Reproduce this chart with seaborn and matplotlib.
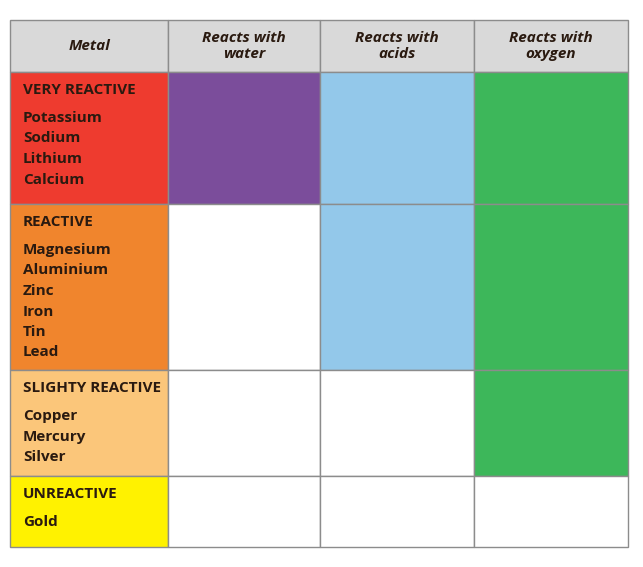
import matplotlib
matplotlib.use("Agg")
import matplotlib.pyplot as plt
import seaborn as sns
from matplotlib.patches import Rectangle

columns = ["Metal", "Reacts with\nwater", "Reacts with\nacids", "Reacts with\noxygen"]
groups = ["VERY REACTIVE", "REACTIVE", "SLIGHTY REACTIVE", "UNREACTIVE"]
metals = [["Potassium", "Sodium", "Lithium", "Calcium"],
          ["Magnesium", "Aluminium", "Zinc", "Iron", "Tin", "Lead"],
          ["Copper", "Mercury", "Silver"],
          ["Gold"]]
reacts_water = [1, 0, 0, 0]
reacts_acids = [1, 1, 0, 0]
reacts_oxygen = [1, 1, 1, 0]

group_colors = ["#EE3B2F", "#F0852D", "#FBC67A", "#FFF200"]
react_colors = ["#7B4D9B", "#93C8EA", "#3DB75A"]
header_color = "#D9D9D9"
text_color = "#2A1A10"
line_color = "#8C8C8C"

sns.set_style("white")
plt.rcParams['font.family'] = ['Open Sans', 'DejaVu Sans']

fig = plt.figure(figsize=(6.43, 5.67), dpi=100)
ax = fig.add_axes([0, 0, 1, 1])
ax.set_xlim(0, 643)
ax.set_ylim(567, 0)
ax.axis("off")

col_x = [10, 168, 320, 474, 628]
row_y = [20, 72, 204, 370, 476, 547]

# header
for c in range(4):
    ax.add_patch(Rectangle((col_x[c], row_y[0]), col_x[c+1]-col_x[c], row_y[1]-row_y[0],
                           facecolor=header_color, edgecolor=line_color, lw=1))
    ax.text((col_x[c]+col_x[c+1])/2, (row_y[0]+row_y[1])/2, columns[c], ha="center", va="center",
            fontsize=11, fontweight="bold", fontstyle="italic", color=text_color, linespacing=1.1)

react = [reacts_water, reacts_acids, reacts_oxygen]
for r in range(4):
    y0, y1 = row_y[r+1], row_y[r+2]
    ax.add_patch(Rectangle((col_x[0], y0), col_x[1]-col_x[0], y1-y0,
                           facecolor=group_colors[r], edgecolor=line_color, lw=1))
    ax.text(23, y0+18, groups[r], ha="left", va="center", fontsize=11, fontweight="bold", color=text_color)
    for i, m in enumerate(metals[r]):
        ax.text(23, y0+46+i*20.5, m, ha="left", va="center", fontsize=11, fontweight="bold", color=text_color)
    for c in range(3):
        fc = react_colors[c] if react[c][r] else "white"
        ax.add_patch(Rectangle((col_x[c+1], y0), col_x[c+2]-col_x[c+1], y1-y0,
                               facecolor=fc, edgecolor=line_color, lw=1))

fig.savefig("out.png", dpi=100)
